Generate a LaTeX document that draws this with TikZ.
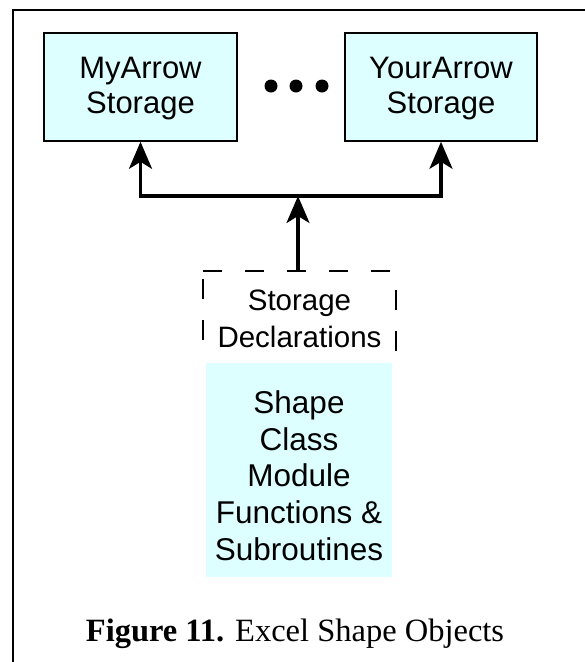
\documentclass[tikz,border=0pt]{standalone}
\usepackage{fontspec}
\setmainfont{Liberation Sans}
\newfontfamily\capfont{Liberation Serif}
\usetikzlibrary{arrows.meta}
\definecolor{paleCyan}{RGB}{221,255,255}
\begin{document}
\begin{tikzpicture}[x=1pt,y=-1pt,
  frameline/.style={line width=2.3pt},
  storebox/.style={draw=black, line width=1.6pt, fill=paleCyan, minimum width=193pt,
    minimum height=108pt, inner sep=0pt, align=center,
    text height=58pt, text depth=6pt, font=\fontsize{31}{35}\selectfont},
  modbox/.style={fill=paleCyan, minimum width=186pt, minimum height=214pt, inner sep=0pt,
    align=center, text height=180.5pt, text depth=0pt, font=\fontsize{31.5}{36.75}\selectfont},
  decltext/.style={inner sep=0pt, align=center, text height=59pt, text depth=0pt,
    font=\fontsize{29.5}{37}\selectfont},
  dotnode/.style={circle, fill=black, minimum size=13pt, inner sep=0pt},
  dashline/.style={line width=1.2pt, dash pattern=on 20pt off 21pt},
  arr/.style={line width=3.3pt, -{Stealth[length=27pt,width=23pt,inset=7pt]}},
  arrboth/.style={line width=3.3pt, {Stealth[length=27pt,width=23pt,inset=7pt]}-{Stealth[length=27pt,width=23pt,inset=7pt]}},
  captext/.style={inner sep=0pt, anchor=base, font=\capfont\fontsize{32.5}{38}\selectfont}
]
\useasboundingbox (0,0) rectangle (585,662);
\fill[white] (0,0) rectangle (585,662);
% outer frame (open to the right and bottom)
\draw[frameline] (13,662) -- (13,10) -- (585,10);

% top storage boxes
\node[storebox] (my) at (140.5,87) {MyArrow\\Storage};
\node[storebox, minimum width=192pt] (your) at (441,87) {YourArrow\\Storage};

% ellipsis dots
\node[dotnode] (d1) at (271,86) {};
\node[dotnode] (d2) at (296,86) {};
\node[dotnode] (d3) at (322,86) {};

% junction and connectors
\coordinate (j) at (298,196);
\coordinate (dtop) at (298,271);
\draw[arrboth] (my.south) |- (j) -| (your.south);
\draw[arr] (dtop) -- (j);

% dashed storage declarations frame (open at bottom)
\coordinate (dtl) at (203,271);
\coordinate (dtr) at (396,271);
\coordinate (dbl) at (203,352);
\coordinate (dbr) at (396,352);
\draw[line width=1.2pt, dash pattern=on 19pt off 23pt] (dtl) -- (dtr);
\draw[dashline, dash phase=33pt] (dtl) -- (dbl);
\draw[dashline, dash phase=22pt] (dtr) -- (dbr);
\node[decltext] (decl) at (299.5,317.5) {Storage\\Declarations};

% module box
\node[modbox] (mod) at (299,470) {Shape\\Class\\Module\\Functions \&\\Subroutines};

% caption
\node[captext] (cap) at (295,641) {\textbf{Figure 11.} Excel Shape Objects};
\end{tikzpicture}
\end{document}
